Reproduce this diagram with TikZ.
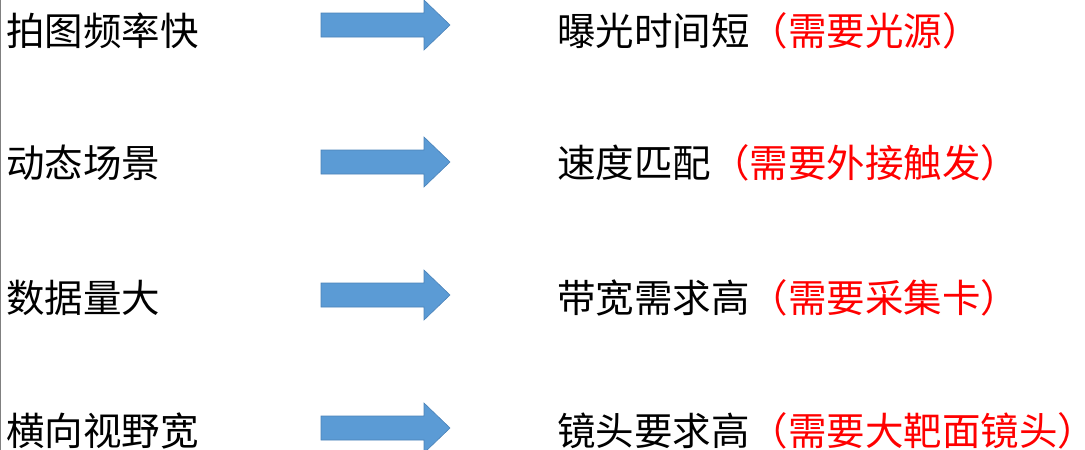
\documentclass[tikz,border=0pt]{standalone}
\usepackage{fontspec}
\newfontfamily\cjk{Noto Sans CJK SC}
\definecolor{arrowblue}{HTML}{5B9BD5}
\definecolor{arrowedge}{HTML}{4A82B8}
\tikzset{
  lbl/.style={anchor=west,inner sep=0pt,font=\cjk\fontsize{38.5}{40}\selectfont},
  bigarrow/.style={fill=arrowblue,draw=arrowedge,line width=0.6pt},
}
\newcommand{\fatarrow}[1]{%
  \draw[bigarrow] (321,#1-12) -- (424,#1-12) -- (424,#1-25) -- (450,#1)
    -- (424,#1+25) -- (424,#1+12) -- (321,#1+12) -- cycle;}
\begin{document}
\begin{tikzpicture}[x=1pt,y=-1pt]
   \useasboundingbox (0,0) rectangle (1085,450);
   \draw[gray,line width=1.5pt] (0.5,0) -- (0.5,450);

   \node[lbl] (c1) at (6,31) {拍图频率快};
   \node[lbl] (c2) at (6,163) {动态场景};
   \node[lbl] (c3) at (6,298) {数据量大};
   \node[lbl] (c4) at (6,431) {横向视野宽};

   \fatarrow{25}
   \fatarrow{162}
   \fatarrow{295}
   \fatarrow{428}

   \node[lbl] (r1) at (557,31) {曝光时间短\textcolor{red}{（需要光源）}};
   \node[lbl] (r2) at (557,163) {速度匹配\textcolor{red}{（需要外接触发）}};
   \node[lbl] (r3) at (557,298) {带宽需求高\textcolor{red}{（需要采集卡）}};
   \node[lbl] (r4) at (557,431) {镜头要求高\textcolor{red}{（需要大靶面镜头）}};
 \end{tikzpicture}
\end{document}
